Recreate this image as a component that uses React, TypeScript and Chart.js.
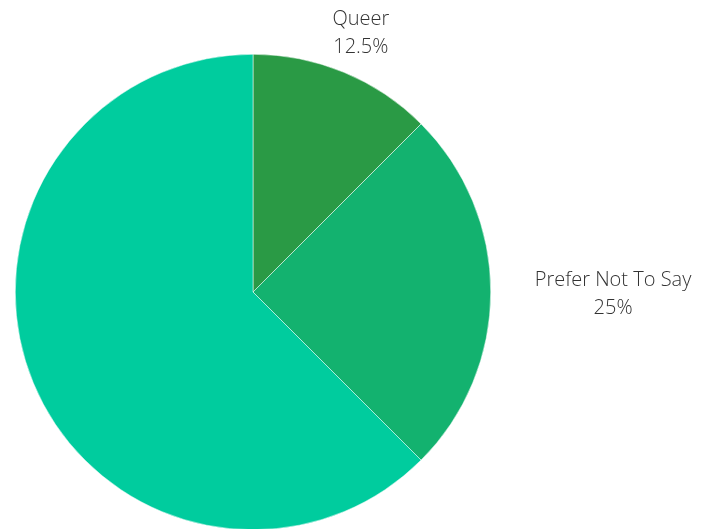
import React, { useEffect, useRef } from "react";
import { Chart, registerables } from "chart.js";

Chart.register(...registerables);

const categories = ["Queer", "Prefer Not To Say", "Other"];
const percentages = [12.5, 25, 62.5];
const sliceColors = ["#2a9a45", "#13b26f", "#00cc9e"];

const labelPlugin = {
  id: "outerLabels",
  afterDatasetsDraw(chart: any) {
    const ctx = chart.ctx as CanvasRenderingContext2D;
    const meta = chart.getDatasetMeta(0);
    ctx.save();
    ctx.font = "300 20px 'Open Sans'";
    ctx.fillStyle = "#333333";
    ctx.textBaseline = "middle";
    ctx.textAlign = "center";
    meta.data.forEach((arc: any, i: number) => {
      const { x, y, startAngle, endAngle, outerRadius } = arc.getProps(
        ["x", "y", "startAngle", "endAngle", "outerRadius"],
        true
      );
      const mid = (startAngle + endAngle) / 2;
      const r = outerRadius + 44;
      const lx = x + Math.cos(mid) * r;
      const ly = y + Math.sin(mid) * r + 2;
      const c = Math.cos(mid);
      const lines = [categories[i], percentages[i] + "%"];
      const w = Math.max(...lines.map((t) => ctx.measureText(t).width));
      let cx = lx;
      if (c > 0.5) cx = lx + w / 2;
      else if (c < -0.5) cx = lx - w / 2;
      const lh = 28;
      lines.forEach((t, k) => {
        ctx.fillText(t, cx, ly + (k - (lines.length - 1) / 2) * lh);
      });
    });
    ctx.restore();
  },
};

export default function App() {
  const ref = useRef<HTMLCanvasElement>(null);
  useEffect(() => {
    document.body.style.margin = "0";
    const chart = new Chart(ref.current!, {
      type: "pie",
      data: {
        labels: categories,
        datasets: [
          {
            data: percentages,
            backgroundColor: sliceColors,
            borderColor: "#ffffff",
            borderWidth: 0.5,
          },
        ],
      },
      options: {
        animation: false,
        responsive: false,
        layout: { padding: { top: 54, left: 15, right: 210, bottom: 10 } },
        plugins: {
          legend: { display: false },
          tooltip: { enabled: false },
        },
      },
      plugins: [labelPlugin],
    });
    return () => chart.destroy();
  }, []);
  return (
    <div style={{ width: 701, height: 529, overflow: "hidden", position: "relative" }}>
      <canvas ref={ref} width={701} height={540} style={{ display: "block" }} />
    </div>
  );
}
